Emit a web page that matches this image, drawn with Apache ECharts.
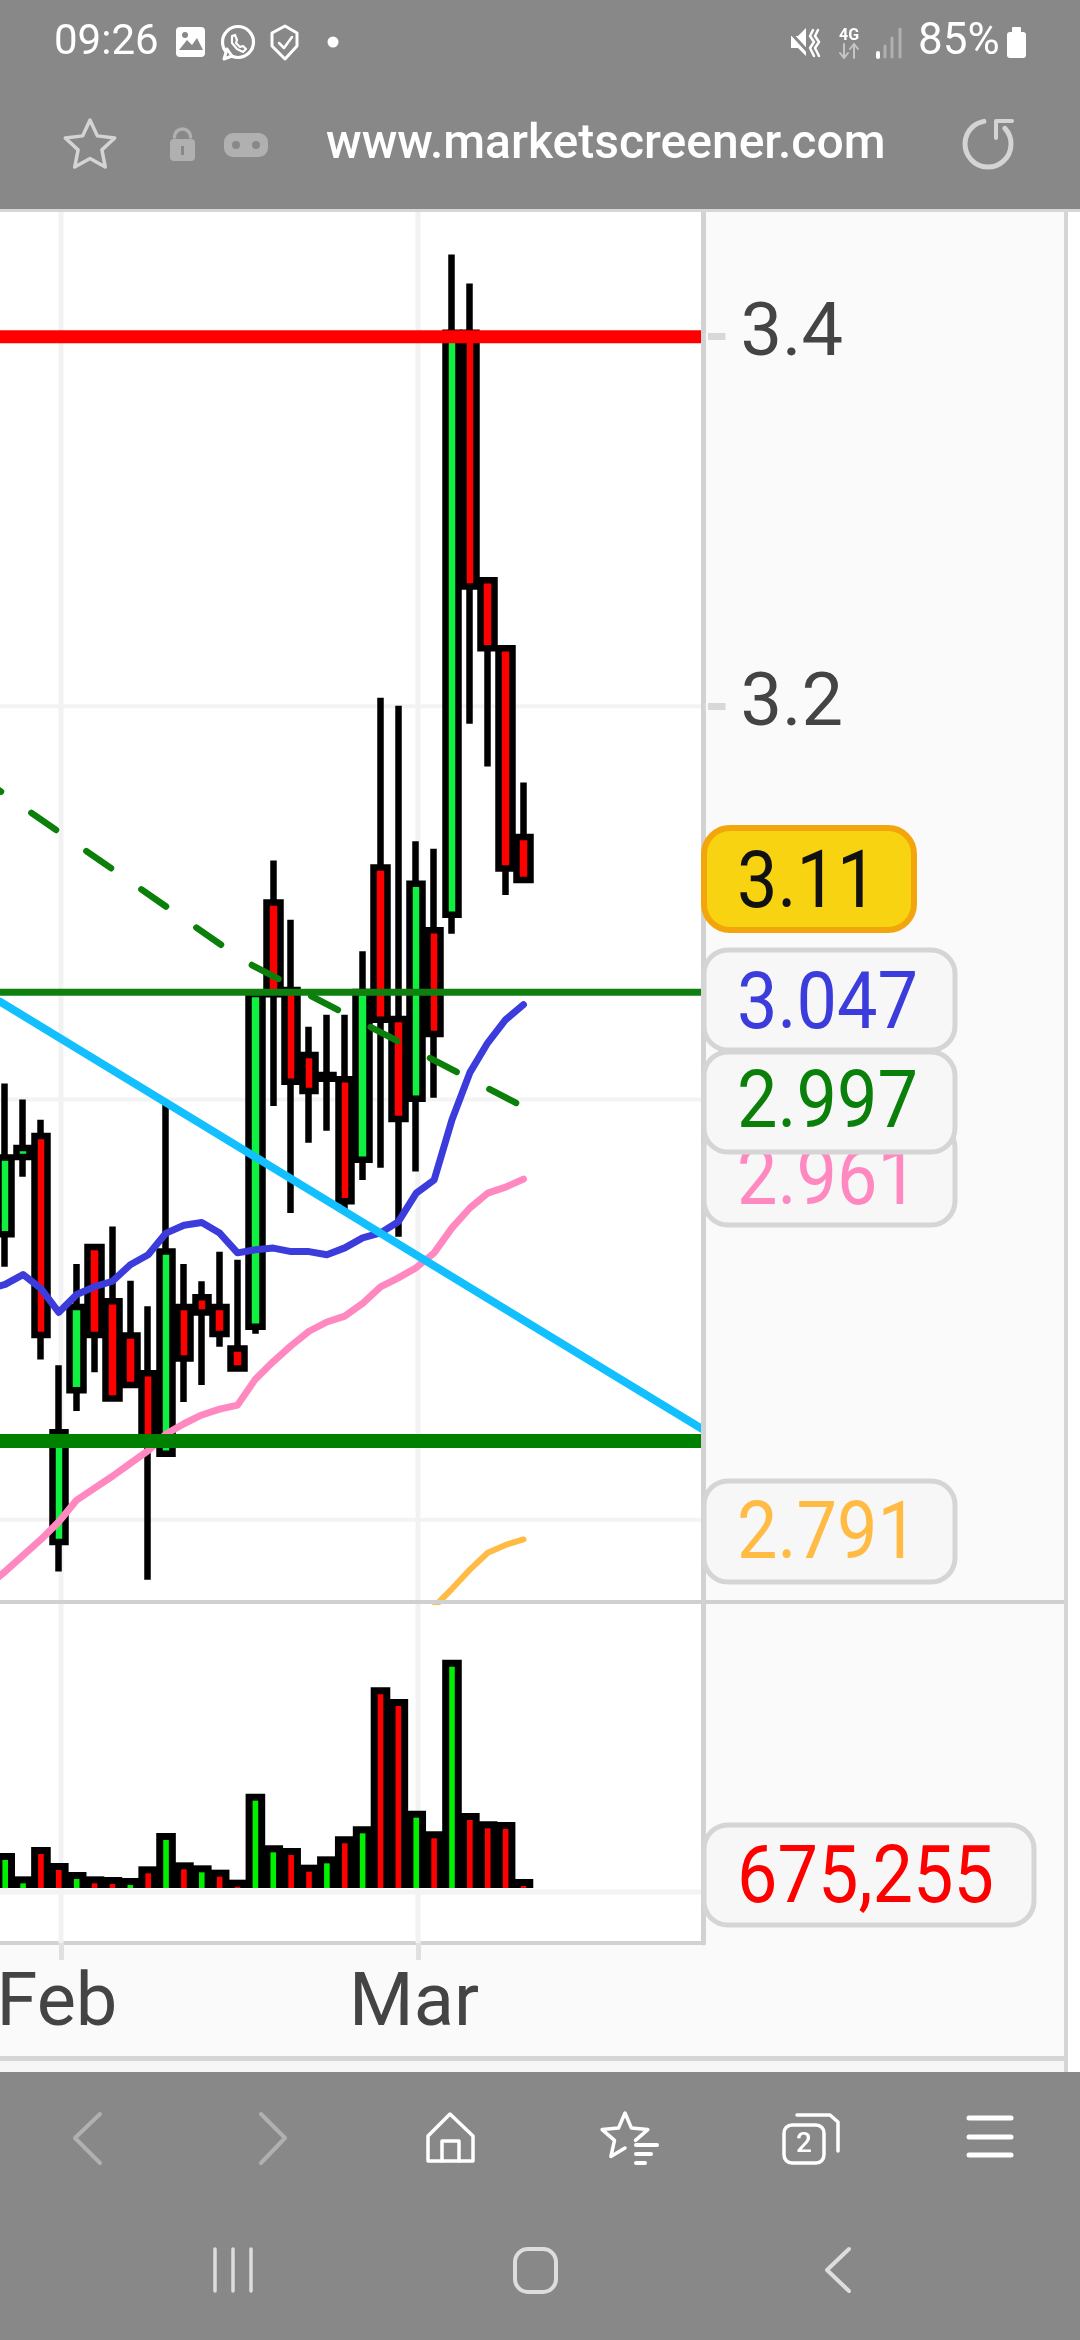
<!DOCTYPE html>
<html><head><meta charset="utf-8">
<style>html,body{margin:0;padding:0;background:#fff}#c{width:1080px;height:2340px}</style>
<script src="https://cdn.jsdelivr.net/npm/echarts@6/dist/echarts.min.js"></script>
</head><body><div id="c"></div>
<script>
// ---- data ----
const candleIndex = [0,1,2,3,4,5,6,7,8,9,10,11,12,13,14,15,16,17,18,19,20,21,22,23,24,25,26,27,28,29];
const opens  = [2.9344,2.9718,2.9820,2.7898,2.8602,2.9282,2.9023,2.8860,2.8682,2.8305,2.8995,2.9042,2.8995,2.8799,2.8901,3.0985,3.0543,3.0219,3.0102,3.0100,2.9704,3.1164,3.0398,3.0003,3.0844,3.0923,3.4022,3.2668,3.2305,3.1320];
const closes = [2.9715,2.9762,2.8862,2.8405,2.8995,2.8862,2.8563,2.8626,2.8361,2.9260,2.8751,2.8969,2.8867,2.8704,3.0523,3.0522,3.0087,3.0041,3.0120,2.9503,3.0533,3.0395,2.9904,3.1081,3.0324,3.4022,3.2634,3.2305,3.1158,3.1100];
const lows   = [2.9187,2.9622,2.8747,2.7764,2.8505,2.8687,2.8555,2.8620,2.7726,2.8292,2.8547,2.8626,2.8807,2.8691,2.8868,2.9968,2.9446,2.9788,2.9846,2.9465,2.9606,2.9665,2.9331,2.9647,3.0008,3.0827,3.1908,3.1684,3.1024,3.1095];
const highs  = [3.0078,3.0000,2.9900,2.8719,2.9201,2.9285,2.9381,2.9121,2.8999,2.9994,2.9201,2.9118,2.9259,2.9221,3.0537,3.1200,3.0898,3.0360,3.0420,3.0420,3.0738,3.2044,3.2002,3.1298,3.1260,3.4462,3.4298,3.2670,3.2307,3.1601];
const volumes = [2626000,875000,3076000,1876000,1200000,875000,825000,750000,1626000,4127000,1926000,1701000,1375000,625000,7078000,3201000,3001000,1750000,2376000,3877000,4627000,15056000,14180000,5802000,4252000,17131000,5627000,5002000,4952000,675255];
const volumeUp = [1,1,0,0,1,0,0,1,0,1,0,1,0,0,1,1,0,0,1,0,1,0,0,1,0,1,0,0,0,0];
const ma20Index = [-1,0,1,2,3,4,5,6,7,8,9,10,11,12,13,14,15,16,17,18,19,20,21,22,23,24,25,26,27,28,29];
const ma20 = [2.908,2.9103,2.9150,2.9083,2.8970,2.9055,2.9092,2.9118,2.9197,2.9245,2.9349,2.9387,2.9400,2.9349,2.9254,2.9269,2.9277,2.9260,2.9260,2.9245,2.9278,2.9326,2.9350,2.9404,2.9542,2.9606,2.9900,3.0132,3.0280,3.0395,3.047];
const ma50 = [2.7698,2.7764,2.7837,2.7910,2.7991,2.8091,2.8146,2.8201,2.8261,2.8320,2.8397,2.8445,2.8486,2.8513,2.8532,2.8654,2.8737,2.8812,2.8880,2.8924,2.8952,2.9012,2.9091,2.9134,2.9183,2.9254,2.9374,2.9470,2.9542,2.9571,2.961];
const ma100Index = [24,25,26,27,28,29];
const ma100 = [2.7603,2.7685,2.7772,2.7849,2.7885,2.791];
const dashIndex = [-1.2,13.42,28.64];
const dashValues = [3.1616,3.0687,2.998];
const cyanIndex = [-0.291,38.99];
const cyanValues = [3.0485,2.8421];
const levelRed = 3.4, levelThickGreen = 2.8365, levelThinGreen = 3.0532;
const priceGrid = [3.2,3.0,2.8];
const priceTicks = [3.4,3.2];
const monthTicks = [3.12,23.1];
const monthLabels = ['Feb','Mar'];
const lastPrice = '3.11', labelMa20 = '3.047', labelDash = '2.997', labelMa50 = '2.961', labelMa100 = '2.791', labelVolume = '675,255';

// ---- axis ranges ----
const xMin = -0.291, xMax = 38.99;
const pMin = 2.7625, pMax = 3.472;
const vMax = 21458000, vFrameMin = -4127000, vGrid0 = -300000;

const zipXY = (xs, ys) => xs.map((x, k) => [x, ys[k]]);
const F = 'Roboto, "Noto Sans", sans-serif';
const lineS = (name, data, color, width, z, idx, extra) => Object.assign({
  name, type:'line', data, xAxisIndex: idx||0, yAxisIndex: idx||0, z, symbol:'none', silent:true, animation:false,
  lineStyle:{color, width, cap:'round', join:'round'}
}, extra||{});
const hl = (v, color, width, z, idx) => lineS('h'+v, [[xMin,v],[xMax,v]], color, width, z, idx, {lineStyle:{color,width,cap:'butt'}});

const series = [];
priceGrid.forEach(v => series.push(hl(v,'#f3f3f3',4,1,0)));
monthTicks.forEach(m => {
  series.push(lineS('v'+m,[[m,pMin],[m,pMax]],'#f2f2f2',5,1,0,{lineStyle:{color:'#f2f2f2',width:5,cap:'butt'}}));
  series.push(lineS('vv'+m,[[m,vFrameMin],[m,vMax]],'#f2f2f2',5,1,2,{lineStyle:{color:'#f2f2f2',width:5,cap:'butt'}}));
});
series.push(hl(vGrid0,'#f3f3f3',5,1,2));
series.push({
  name:'volume', type:'custom', xAxisIndex:1, yAxisIndex:1, z:3, animation:false, silent:true, clip:true,
  data: candleIndex.map((i,k)=>[i,volumes[k],volumeUp[k]]),
  encode:{x:0,y:1},
  renderItem:(params,api)=>{
    const top = api.coord([api.value(0),api.value(1)]);
    const base = api.coord([api.value(0),0]);
    const col = api.value(2) ? '#00f000' : '#ff0000';
    return {type:'group',children:[
      {type:'rect',shape:{x:top[0]-9.8,y:top[1],width:19.6,height:base[1]-top[1]},style:{fill:'#000'}},
      {type:'rect',shape:{x:top[0]-2.8,y:top[1]+7,width:5.6,height:Math.max(0,base[1]-top[1]-7)},style:{fill:col}}
    ]};
  }
});
series.push({
  name:'price', type:'candlestick', xAxisIndex:0, yAxisIndex:0, z:3, barWidth:14, animation:false, silent:true, clip:true,
  data: candleIndex.map((i,k)=>[i,opens[k],closes[k],lows[k],highs[k]]),
  itemStyle:{color:'#10f040', color0:'#ff0000', borderColor:'#000', borderColor0:'#000', borderColorDoji:'#000', borderWidth:6.5}
});
series.push(lineS('ma100', zipXY(ma100Index,ma100),'#ffbb44',6,5));
series.push(lineS('ma50', zipXY(ma20Index,ma50),'#ff88c0',7,5));
series.push(lineS('ma20', zipXY(ma20Index,ma20),'#3c3cdc',7,5));
series.push(lineS('trend', zipXY(dashIndex,dashValues),'#0a7f0a',6.5,6,0,{lineStyle:{color:'#0a7f0a',width:6.5,type:[30,37],dashOffset:9,cap:'round'}}));
series.push(lineS('cyan', zipXY(cyanIndex,cyanValues),'#12bfff',8,6));
series.push(hl(levelThickGreen,'#008000',14,7,0));
series.push(hl(levelThinGreen,'#0f800f',7,7,0));
series.push(hl(levelRed,'#ff0000',13,7,0));

// ---- chrome helpers ----
const G = [];
const R=(x,y,w,h,r,fill,stroke,lw,z)=>G.push({type:'rect',z:z==null?20:z,silent:true,shape:{x,y,width:w,height:h,r},style:{fill:fill||'none',stroke:stroke||'none',lineWidth:lw||0}});
const T=(text,x,y,size,fill,z,weight,align,sy)=>G.push({type:'text',z:z==null?21:z,silent:true,originX:x,originY:y,scaleY:sy||1,style:{text,x,y,fill,font:(weight||400)+' '+size+'px '+F,textAlign:align||'left',textVerticalAlign:'middle',textBaseline:'middle'}});
const P=(pts,stroke,lw,fill,closed,z)=>G.push({type:closed?'polygon':'polyline',z:z==null?21:z,silent:true,shape:{points:pts},style:{stroke:stroke||'none',lineWidth:lw||0,fill:fill||'none',lineCap:'round',lineJoin:'round'}});
const C=(cx,cy,r,fill,stroke,lw,z)=>G.push({type:'circle',z:z==null?21:z,silent:true,shape:{cx,cy,r},style:{fill:fill||'none',stroke:stroke||'none',lineWidth:lw||0}});
const A=(cx,cy,r,a0,a1,stroke,lw)=>G.push({type:'arc',z:21,silent:true,shape:{cx,cy,r,startAngle:a0,endAngle:a1,clockwise:true},style:{stroke,lineWidth:lw,fill:'none',lineCap:'round'}});
const star=(cx,cy,Ro,Ri)=>{const p=[];for(let i=0;i<10;i++){const a=-Math.PI/2+i*Math.PI/5,r=i%2?Ri:Ro;p.push([cx+r*Math.cos(a),cy+r*Math.sin(a)]);}return p;};

// page backgrounds
R(704,211,361,1847,0,'#fafafa',null,0,-2);
R(0,1945,704,113,0,'#fafafa',null,0,-2);
R(0,2060,1065,12,0,'#f6f6f6',null,0,-2);
// frame lines
R(0,1600,1065,4,0,'#d0d0d0',null,0,8);
R(0,2056,1065,5,0,'#d5d5d5',null,0,8);
R(1064,209,4,1863,0,'#d5d5d5',null,0,8);
// small gap between the axis line and its tick marks
R(706,328,2,20,0,'#fafafa',null,0,9);
R(706,696,2,20,0,'#fafafa',null,0,9);

// top bar
R(0,0,1080,209,0,'#888888',null,0,20);
R(0,209,1080,3,0,'#d6d6d6',null,0,19);
T('09:26',54,43,42,'#ffffff');
R(176,27,29,30,4,'#ffffff');
P([[179,50],[187,40],[192,45],[197,38],[203,50]],null,0,'#888888',true);
C(185,35,3,'#888888');
C(238,42,15.5,null,'#ffffff',3.2);
P([[224,59],[227,49],[232,56]],'#ffffff',3,'#888888',true);
P([[232,36],[235,35],[237,40],[236,43],[240,47],[243,46],[246,49],[243,52],[237,49],[232,43],[232,36]],'#ffffff',2.2);
P([[285,26],[297,33],[297,46],[285,59],[272,46],[272,33]],'#ffffff',3,null,true);
P([[279,43],[284,48],[292,37]],'#ffffff',2.5);
C(333,42,5.5,'#ffffff');
P([[791,36],[798,36],[806,28],[806,56],[798,48],[791,48]],null,0,'#ffffff',true);
P([[789,31],[812,56]],'#888888',3);
P([[813,30],[810,36],[814,42],[810,48],[814,56]],'#ffffff',2.5);
P([[818,30],[815,36],[819,42],[815,48],[819,56]],'#ffffff',2.5);
T('4G',849,36,16,'#ffffff',21,700,'center');
P([[844,44],[844,58]],'#c4c4c4',2);P([[840,53],[844,58],[848,53]],'#c4c4c4',2);
P([[854,44],[854,58]],'#c4c4c4',2);P([[850,49],[854,44],[858,49]],'#c4c4c4',2);
P([[878,53],[878,57]],'#ffffff',4);P([[885,46],[885,57]],'#b0b0b0',3);P([[892,38],[892,57]],'#b0b0b0',3);P([[900,29],[900,57]],'#b0b0b0',3);
T('85%',918,43,44,'#ffffff');
R(1007,32,19,26,3,'#ffffff');R(1012,27,9,6,1,'#ffffff');
P(star(90,146,26,12.5),'#d4d4d4',3.5,null,true);
R(170,139,25,22,4,'#b0b0b0');
A(182.5,137,8,Math.PI,0,'#b0b0b0',3.5);
G.push({type:'rect',z:21,silent:true,shape:{x:181,y:146,width:3,height:9},style:{fill:'#888888'}});
R(224,133,44,24,9,'#b0b0b0');
C(236,145,4,'#888888');C(256,145,4,'#888888');
T('www.marketscreener.com',326,146,48,'#ffffff',21,500);
A(988,144,23,-0.75,Math.PI*2-1.75,'#d4d4d4',5);
P([[1012,121],[996,121],[996,138]],'#d4d4d4',4);

// bottom bars
R(0,2072,1080,268,0,'#888888',null,0,20);
P([[100,2114],[75,2138],[100,2163]],'#b0b0b0',4);
P([[261,2114],[285,2138],[261,2163]],'#b0b0b0',4);
P([[428,2136],[450,2114],[473,2136],[473,2161],[428,2161]],'#ffffff',3.5,null,true);
P([[442,2161],[442,2141],[459,2141],[459,2161]],'#ffffff',3.5);
const sp = star(625,2137,24,11);
P([3,2,1,0,9,8,7,6,5].map(k=>sp[k]),'#ffffff',3.5);
P([[636,2145],[657,2145]],'#ffffff',4);P([[636,2154],[651,2154]],'#ffffff',4);P([[636,2163],[645,2163]],'#ffffff',4);
R(784,2125,40,38,8,null,'#ffffff',3.5);
T('2',804,2145,28,'#ffffff',21,500,'center');
P([[797,2115],[830,2115],[838,2122],[838,2151]],'#ffffff',3.5);
P([[969,2118],[1011,2118]],'#ffffff',5);P([[969,2137],[1011,2137]],'#ffffff',5);P([[969,2155],[1011,2155]],'#ffffff',5);
P([[215,2249],[215,2291]],'#dddddd',3.5);P([[233,2249],[233,2291]],'#dddddd',3.5);P([[251,2249],[251,2291]],'#dddddd',3.5);
R(515,2249,41,43,13,null,'#dddddd',4);
P([[849,2249],[827,2270],[849,2291]],'#dddddd',4);

// value pills
const pill=(y0,y1,x1,fill,bd,lw,txt,color,ty,r)=>{R(704,y0,x1-704,y1-y0,r||24,fill,bd,lw,10);T(txt,737,ty,72,color,10,400,'left',1.1);};
pill(1124,1225,955,'#f7f7f7','#d5d5d5',5,labelMa50,'#ff88c0',1184);
pill(950,1050,955,'#f7f7f7','#d5d5d5',5,labelMa20,'#3c3cdc',1008);
pill(1052,1152,955,'#f7f7f7','#d5d5d5',5,labelDash,'#0a800a',1107);
pill(1481,1582,955,'#f7f7f7','#d5d5d5',5,labelMa100,'#ffbb44',1538);
pill(1825,1925,1034,'#f7f7f7','#d5d5d5',5,labelVolume,'#ff0000',1882);
pill(828,930,914,'#f7d311','#f2a60c',6,lastPrice,'#111111',887,26);

const option = {
  backgroundColor:'#ffffff', animation:false,
  grid:[
    {left:0,top:209,width:702,height:1393,outerBoundsMode:'none'},
    {left:0,top:1602,width:702,height:286,outerBoundsMode:'none'},
    {left:0,top:1602,width:702,height:341,outerBoundsMode:'none'}
  ],
  xAxis:[
    {gridIndex:0,type:'value',min:xMin,max:xMax,show:false},
    {gridIndex:1,type:'value',min:xMin,max:xMax,show:false},
    {gridIndex:2,type:'value',min:xMin,max:xMax,position:'bottom',
     axisLine:{show:true,onZero:false,lineStyle:{color:'#d2d2d2',width:4}},
     axisTick:{show:true,customValues:monthTicks,length:17,lineStyle:{color:'#e0e0e0',width:5}},
     axisLabel:{show:true,customValues:monthTicks,margin:26,color:'#444444',fontFamily:F,fontSize:74,padding:[0,8,0,0],
       formatter:v=>monthLabels[monthTicks.indexOf(v)]||''},
     splitLine:{show:false}}
  ],
  yAxis:[
    {gridIndex:0,type:'log',logBase:10,min:pMin,max:pMax,position:'right',offset:1.5,z:8,
     axisLine:{show:true,onZero:false,lineStyle:{color:'#d2d2d2',width:5}},
     axisTick:{show:true,customValues:priceTicks,length:22,lineStyle:{color:'#d8d8d8',width:7}},
     axisLabel:{show:true,customValues:priceTicks,margin:37,color:'#444444',fontFamily:F,fontSize:74,padding:[12,0,0,0],formatter:v=>Number(v).toFixed(1)},
     splitLine:{show:false},minorTick:{show:false},minorSplitLine:{show:false}},
    {gridIndex:1,type:'value',min:0,max:vMax,show:false},
    {gridIndex:2,type:'value',min:vFrameMin,max:vMax,position:'right',offset:1.5,z:8,
     axisLine:{show:true,onZero:false,lineStyle:{color:'#d2d2d2',width:5}},
     axisTick:{show:false},axisLabel:{show:false},splitLine:{show:false}}
  ],
  series,
  graphic:{elements:G}
};
echarts.init(document.getElementById('c'),null,{renderer:'canvas'}).setOption(option);
</script></body></html>
